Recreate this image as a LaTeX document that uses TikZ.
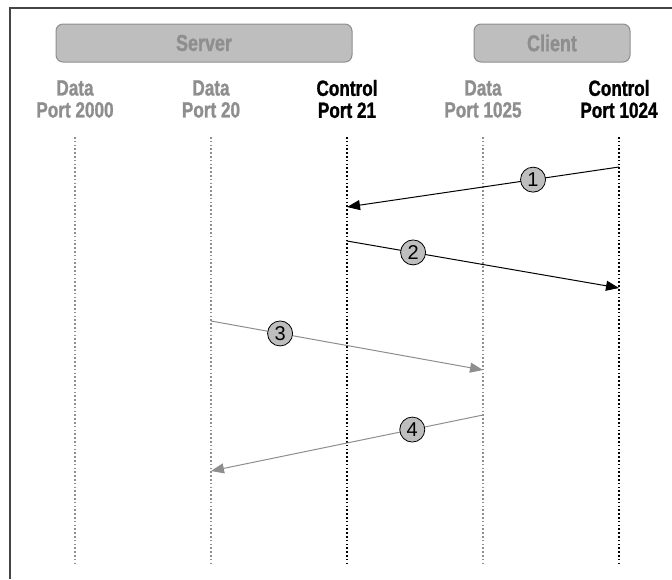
\documentclass[tikz,border=0pt]{standalone}
\usepackage{fontspec}
\setmainfont{Liberation Sans}
\newfontfamily\portfont[FakeStretch=0.78, FakeBold=1.2]{Liberation Sans Bold}
\usetikzlibrary{arrows.meta}
\definecolor{lightgr}{HTML}{8E8E8E}
\definecolor{boxfill}{HTML}{BEBEBE}
\definecolor{framegr}{HTML}{454545}
\tikzset{
  head/.style={draw=lightgr, fill=boxfill, rounded corners=7pt, line width=1pt,
    minimum height=38pt, text=lightgr, font=\portfont\fontsize{23}{23}\selectfont},
  port/.style={align=center, font=\portfont\fontsize{22}{22}\selectfont},
  lifeline/.style={line width=1.6pt, dash pattern=on 1.6pt off 2.2pt},
  msg/.style={line width=1pt, -{Triangle[length=13pt,width=10pt]}},
  num/.style={circle, draw=black, fill=boxfill, inner sep=0pt, minimum size=25pt,
    line width=0.8pt, text=black, font=\fontsize{20}{20}\selectfont}
}
\begin{document}
\begin{tikzpicture}[x=1pt, y=-1pt]
  \useasboundingbox (0,0) rectangle (672,579);
  \draw[framegr, line width=2pt] (10,579) -- (10,8) -- (672,8);
  \node[head, minimum width=296pt] (server) at (204,43) {Server};
  \node[head, minimum width=156pt] (client) at (552,43) {Client};
  \foreach \x/\n in {75/p2000, 211/p20, 347/p21, 483/p1025, 619/p1024} {
    \coordinate (\n-top) at (\x,137);
    \coordinate (\n-bot) at (\x,563);
  }
  \node[port, lightgr] (l2000) at (75,99) {Data\\Port 2000};
  \node[port, lightgr] (l20) at (211,99) {Data\\Port 20};
  \node[port] (l21) at (347,99) {Control\\Port 21};
  \node[port, lightgr] (l1025) at (483,99) {Data\\Port 1025};
  \node[port] (l1024) at (619,99) {Control\\Port 1024};
  \draw[lifeline, lightgr] (p2000-top) -- (p2000-bot);
  \draw[lifeline, lightgr] (p20-top) -- (p20-bot);
  \draw[lifeline] (p21-top) -- (p21-bot);
  \draw[lifeline, lightgr] (p1025-top) -- (p1025-bot);
  \draw[lifeline] (p1024-top) -- (p1024-bot);
  \coordinate (m1a) at (619,167); \coordinate (m1b) at (347,207);
  \coordinate (m2a) at (347,241); \coordinate (m2b) at (619,288);
  \coordinate (m3a) at (211,321); \coordinate (m3b) at (483,370);
  \coordinate (m4a) at (483,415); \coordinate (m4b) at (211,471);
  \draw[msg] (m1a) -- node[num, pos=0.316] (n1) {1} (m1b);
  \draw[msg] (m2a) -- node[num, pos=0.243] (n2) {2} (m2b);
  \draw[msg, lightgr] (m3a) -- node[num, pos=0.254] (n3) {3} (m3b);
  \draw[msg, lightgr] (m4a) -- node[num, pos=0.26] (n4) {4} (m4b);
\end{tikzpicture}
\end{document}
